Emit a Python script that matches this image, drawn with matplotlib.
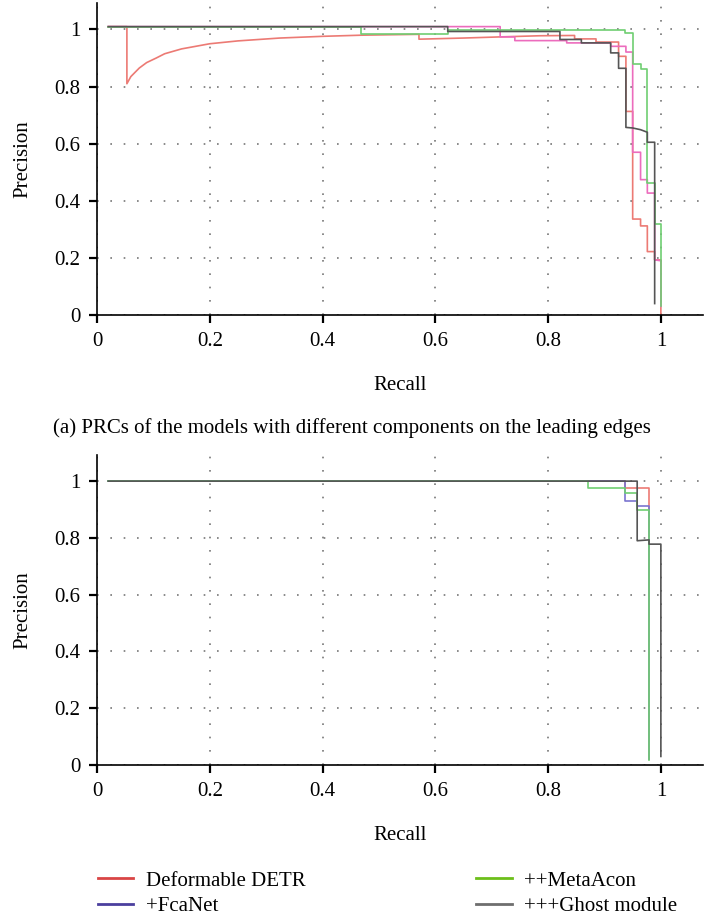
import matplotlib
matplotlib.use("Agg")
import matplotlib.pyplot as plt
from matplotlib.lines import Line2D

plt.rcParams["font.family"] = ["Liberation Serif", "DejaVu Serif"]

# ----- (a) leading edges: PR curve vertices (recall, precision) -----
a_detr_r = [0.02, 0.053, 0.053, 0.06, 0.075, 0.088, 0.105, 0.12, 0.15, 0.2, 0.25, 0.324,
            0.4, 0.469, 0.571, 0.571, 0.65, 0.715, 0.785, 0.847, 0.847, 0.885, 0.885,
            0.925, 0.925, 0.938, 0.938, 0.95, 0.95, 0.964, 0.964, 0.976, 0.976,
            0.989, 0.989, 1.0, 1.0]
a_detr_p = [1.01, 1.01, 0.81, 0.835, 0.865, 0.884, 0.9, 0.915, 0.932, 0.95, 0.96, 0.97,
            0.976, 0.98, 0.983, 0.966, 0.97, 0.974, 0.978, 0.979, 0.967, 0.967, 0.956,
            0.956, 0.906, 0.906, 0.713, 0.713, 0.336, 0.336, 0.312, 0.312, 0.222,
            0.222, 0.193, 0.193, 0.0]

a_fca_r = [0.02, 0.715, 0.715, 0.741, 0.741, 0.833, 0.833, 0.911, 0.911, 0.938, 0.938,
           0.95, 0.95, 0.964, 0.964, 0.976, 0.976, 0.989, 0.989, 1.0, 1.0]
a_fca_p = [1.01, 1.01, 0.974, 0.974, 0.961, 0.961, 0.953, 0.953, 0.941, 0.941, 0.921,
           0.921, 0.57, 0.57, 0.474, 0.474, 0.427, 0.427, 0.193, 0.19, 0.03]

a_meta_r = [0.02, 0.469, 0.469, 0.622, 0.622, 0.937, 0.937, 0.951, 0.951, 0.964, 0.964,
            0.976, 0.976, 0.989, 0.989, 1.0, 1.0]
a_meta_p = [1.01, 1.01, 0.985, 0.985, 0.997, 0.997, 0.986, 0.986, 0.88, 0.88, 0.86,
            0.86, 0.464, 0.464, 0.32, 0.32, 0.03]

a_ghost_r = [0.02, 0.622, 0.622, 0.821, 0.821, 0.859, 0.859, 0.911, 0.911, 0.925, 0.925,
             0.938, 0.938, 0.95, 0.964, 0.976, 0.976, 0.989, 0.989]
a_ghost_p = [1.01, 1.01, 0.993, 0.993, 0.965, 0.965, 0.953, 0.953, 0.918, 0.918, 0.864,
             0.864, 0.657, 0.655, 0.649, 0.64, 0.605, 0.605, 0.04]

# ----- (b) trailing edges -----
b_detr_r = [0.02, 0.936, 0.936, 0.979, 0.979]
b_detr_p = [1.0, 1.0, 0.977, 0.977, 0.02]

b_fca_r = [0.02, 0.936, 0.936, 0.958, 0.958, 0.979, 0.979]
b_fca_p = [1.0, 1.0, 0.93, 0.93, 0.912, 0.912, 0.02]

b_meta_r = [0.02, 0.871, 0.871, 0.936, 0.936, 0.958, 0.958, 0.979, 0.979]
b_meta_p = [1.0, 1.0, 0.975, 0.975, 0.958, 0.958, 0.898, 0.898, 0.018]

b_ghost_r = [0.02, 0.958, 0.958, 0.979, 0.979, 1.0, 1.0]
b_ghost_p = [1.0, 1.0, 0.79, 0.793, 0.778, 0.778, 0.03]

labels = ["Deformable DETR", "+FcaNet", "++MetaAcon", "+++Ghost module"]
legend_colors = ["#d94545", "#4b3f9e", "#6cbf1a", "#6e6e6e"]
ticks = [0, 0.2, 0.4, 0.6, 0.8, 1]
tick_labels = ["0", "0.2", "0.4", "0.6", "0.8", "1"]
FS = 15

fig = plt.figure(figsize=(7.04, 9.17), dpi=100)
ax1 = fig.add_axes([0.1378, 0.6565, 0.861, 0.340])
ax2 = fig.add_axes([0.1378, 0.1658, 0.861, 0.338])


def style(ax):
    ax.set_xlim(0, 1.075)
    ax.set_ylim(0, 1.092)
    ax.set_xticks(ticks)
    ax.set_xticklabels(tick_labels)
    ax.set_yticks(ticks)
    ax.set_yticklabels(tick_labels)
    ax.tick_params(direction="out", length=6, width=1.6, labelsize=FS, pad=6)
    ax.spines["top"].set_visible(False)
    ax.spines["right"].set_visible(False)
    ax.spines["left"].set_linewidth(1.2)
    ax.spines["bottom"].set_linewidth(1.2)
    ax.grid(True, linestyle=(0, (1, 7)), linewidth=1.2, color="#777777")
    ax.set_axisbelow(True)
    ax.set_xlabel("Recall", fontsize=FS, labelpad=18)
    ax.set_ylabel("Precision", fontsize=FS, labelpad=16)


style(ax1)
ax1.plot(a_detr_r, a_detr_p, color="#ec7a74", lw=1.2)
ax1.plot(a_fca_r, a_fca_p, color="#ec6cbd", lw=1.2)
ax1.plot(a_meta_r, a_meta_p, color="#6fce72", lw=1.2)
ax1.plot(a_ghost_r, a_ghost_p, color="#555555", lw=1.2)

style(ax2)
ax2.plot(b_detr_r, b_detr_p, color="#ec7a74", lw=1.2)
ax2.plot(b_fca_r, b_fca_p, color="#7a74d0", lw=1.2)
ax2.plot(b_meta_r, b_meta_p, color="#6fce72", lw=1.2)
ax2.plot(b_ghost_r, b_ghost_p, color="#555555", lw=1.2)

fig.text(0.5, (917 - 428) / 917, "(a) PRCs of the models with different components on the leading edges",
         ha="center", va="center", fontsize=FS)

handles = [Line2D([], [], color=c, lw=2) for c in legend_colors]
fig.legend(handles, labels, ncol=2, loc="upper left", bbox_to_anchor=(98 / 704, (917 - 871) / 917),
           frameon=False, fontsize=FS, columnspacing=8.2, handlelength=1.7,
           handletextpad=0.6, labelspacing=0.28, borderpad=0, borderaxespad=0)

fig.savefig("out.png", dpi=100)
